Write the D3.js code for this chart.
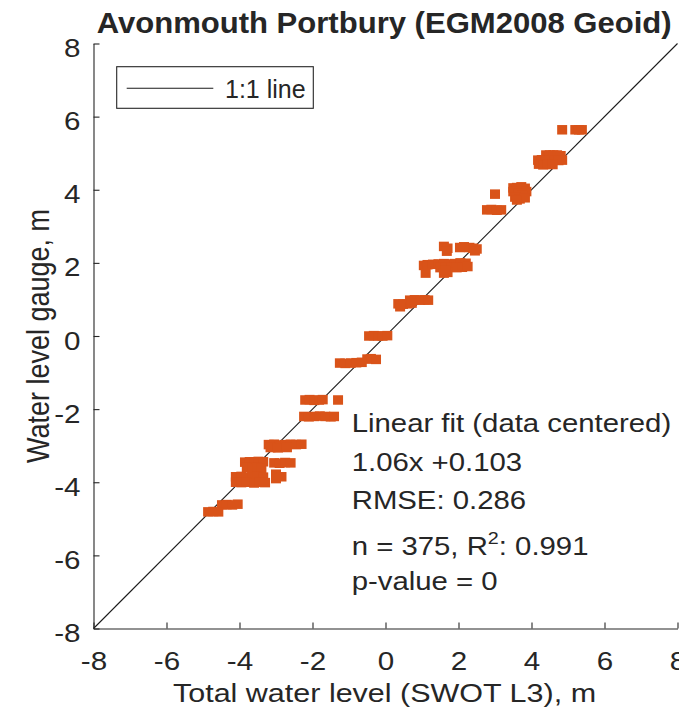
<!DOCTYPE html>
<html><head><meta charset="utf-8">
<script src="https://cdn.jsdelivr.net/npm/d3@7"></script>
<style>
body{margin:0;background:#fff}
text{font-family:"Liberation Sans",Arial,Helvetica,sans-serif;fill:#262626}
</style>
</head><body>
<svg id="chart" width="679" height="718"></svg>
<script>
// ---- data ----
const swotLevel = [
  4.84,5.2,5.3,5.38,
  4.4,4.5,4.6,4.7,4.8,
  4.18,4.28,4.38,4.5,4.62,4.74,4.84,
  4.2,4.32,4.45,4.58,
  3.5,3.6,3.72,3.82,3.86,3.5,3.64,3.76,3.55,3.68,3.82,3.6,
  3.0,
  2.78,2.9,3.05,3.17,
  1.6,1.7,1.68,
  2.04,2.15,2.3,2.4,2.5,2.45,
  1.05,1.15,1.3,1.45,1.6,1.75,1.9,2.05,2.2,
  1.5,1.65,1.8,1.95,2.1,2.25,
  1.1,1.6,1.7,1.65,
  0.67,0.8,0.95,1.07,1.17,
  0.35,0.48,0.6,0.72,0.4,
  -0.45,-0.32,-0.2,-0.08,0.05,
  -0.5,-0.4,-0.26,
  -1.25,-1.1,-0.95,-0.8,-0.65,
  -2.2,-2.08,-1.95,-1.82,-1.72,-1.3,
  -2.23,-2.1,-1.95,-1.8,-1.65,-1.5,-1.41,
  -3.2,-3.05,-2.9,-2.75,-2.6,-2.45,-2.3,-3.15,-2.95,-2.7,
  -3.85,-3.72,-3.6,-3.48,-3.35,
  -3.8,-3.65,-3.5,-3.4,
  -3.05,-2.9,-2.75,-2.6,
  -3.0,-2.85,-3.0,
  -4.1,-3.95,-3.8,-3.65,-3.5,-3.35,
  -4.1,-3.95,-3.8,-3.6,-3.45,-3.3,
  -4.48,-4.35,-4.2,-4.05,
  -4.86,-4.72,-4.58
];
const gaugeLevel = [
  5.64,5.64,5.64,5.64,
  4.95,4.95,4.95,4.95,4.93,
  4.81,4.82,4.8,4.81,4.82,4.8,4.81,
  4.7,4.68,4.7,4.69,
  4.05,4.06,4.08,4.04,3.95,3.95,3.9,3.86,3.8,3.75,3.78,3.72,
  3.88,
  3.45,3.46,3.44,3.45,
  2.45,2.4,2.32,
  2.42,2.44,2.42,2.4,2.38,2.33,
  1.93,1.95,1.96,1.97,1.98,1.97,1.98,2.0,1.99,
  1.87,1.86,1.88,1.87,1.88,1.9,
  1.72,1.72,1.74,1.8,
  0.98,0.99,0.98,0.99,0.98,
  0.88,0.87,0.88,0.9,0.8,
  0.0,0.01,0.0,0.0,0.01,
  -0.63,-0.62,-0.64,
  -0.74,-0.75,-0.74,-0.73,-0.72,
  -1.75,-1.74,-1.76,-1.75,-1.74,-1.75,
  -2.2,-2.21,-2.2,-2.19,-2.2,-2.21,-2.2,
  -2.97,-2.96,-2.98,-2.97,-2.96,-2.97,-2.96,-3.05,-3.06,-3.05,
  -3.45,-3.44,-3.45,-3.43,-3.44,
  -3.6,-3.62,-3.6,-3.63,
  -3.47,-3.48,-3.46,-3.47,
  -3.78,-3.85,-3.9,
  -3.85,-3.84,-3.86,-3.85,-3.84,-3.86,
  -4.0,-4.01,-4.0,-4.02,-4.0,-4.01,
  -4.62,-4.61,-4.62,-4.6,
  -4.81,-4.8,-4.81
];
const xTicks = [-8,-6,-4,-2,0,2,4,6,8];
const yTicks = [-8,-6,-4,-2,0,2,4,6,8];
const oneToOne = [-8, 8];
const titleText = "Avonmouth Portbury (EGM2008 Geoid)";
const xLabelText = "Total water level (SWOT L3), m";
const yLabelText = "Water level gauge, m";
const legendLabel = "1:1 line";
const fitLines = ["Linear fit (data centered)", "1.06x +0.103", "RMSE: 0.286", "n = 375, R|2|: 0.991", "p-value = 0"];

// ---- layout ----
const svg = d3.select("#chart");
const L = 93.5, R = 677.5, T = 43.5, B = 628.5;
const SX = 1.16; // horizontal text stretch seen in the reference
const axisColor = "#262626";
const markColor = "#D95319";

const x = d3.scaleLinear().domain([-8, 8]).range([L, R]);
const y = d3.scaleLinear().domain([-8, 8]).range([B, T]);

// 1:1 line
svg.append("line")
  .attr("x1", x(oneToOne[0])).attr("y1", y(oneToOne[0]))
  .attr("x2", x(oneToOne[1])).attr("y2", y(oneToOne[1]))
  .attr("stroke", "#1a1a1a").attr("stroke-width", 1.1);

// scatter markers (squares)
const mw = 10, mh = 9.5;
svg.append("g").selectAll("rect")
  .data(swotLevel.map((v, i) => [v, gaugeLevel[i]]))
  .join("rect")
  .attr("x", d => x(d[0]) - mw / 2)
  .attr("y", d => y(d[1]) - mh / 2)
  .attr("width", mw).attr("height", mh)
  .attr("fill", markColor);

// axes
const gx = svg.append("g").attr("transform", `translate(0,${B})`)
  .call(d3.axisBottom(x).tickValues(xTicks).tickSizeInner(-6).tickSizeOuter(0).tickFormat(d3.format("d")));
const gy = svg.append("g").attr("transform", `translate(${L},0)`)
  .call(d3.axisLeft(y).tickValues(yTicks).tickSizeInner(-6).tickSizeOuter(0).tickFormat(d3.format("d")));
[gx, gy].forEach(g => {
  g.select(".domain").attr("stroke", axisColor).attr("stroke-width", 1.1);
  g.selectAll(".tick line").attr("stroke", axisColor).attr("stroke-width", 1.1);
  g.selectAll(".tick text").attr("font-size", 25.5).attr("fill", axisColor)
    .style("font-family", '"Liberation Sans",Arial,sans-serif');
});
gx.selectAll(".tick text").attr("y", 0).attr("dy", null)
  .attr("transform", `translate(0,41.5) scale(${SX},1)`);
gy.selectAll(".tick text").attr("x", 0).attr("dy", null)
  .attr("transform", `translate(-13,13) scale(${SX},1)`);
gx.selectAll(".tick text").text(d => String(d));
gy.selectAll(".tick text").text(d => String(d));

// title
svg.append("text")
  .attr("x", 384.2).attr("y", 33)
  .attr("text-anchor", "middle")
  .attr("font-size", 30).attr("font-weight", "bold")
  .attr("fill", "#000")
  .attr("textLength", 575).attr("lengthAdjust", "spacingAndGlyphs")
  .text(titleText);

// x label
svg.append("text")
  .attr("transform", `translate(${(L + R) / 2 - 1},702) scale(${SX},1)`)
  .attr("text-anchor", "middle").attr("font-size", 26.3)
  .text(xLabelText);

// y label
svg.append("text")
  .attr("transform", `translate(49,${(T + B) / 2}) rotate(-90) scale(1,${SX})`)
  .attr("text-anchor", "middle").attr("font-size", 27)
  .text(yLabelText);

// legend
const lg = svg.append("g");
lg.append("rect").attr("x", 116.7).attr("y", 66.7).attr("width", 196.6).attr("height", 41.6)
  .attr("fill", "#fff").attr("stroke", axisColor).attr("stroke-width", 1.1);
lg.append("line").attr("x1", 126.7).attr("x2", 213.3).attr("y1", 88.3).attr("y2", 88.3)
  .attr("stroke", "#1a1a1a").attr("stroke-width", 1.1);
lg.append("text").attr("x", 225).attr("y", 97.5).attr("font-size", 25).text(legendLabel);

// fit statistics annotation
const baselines = [432, 471, 509, 555, 590];
fitLines.forEach((s, i) => {
  const t = svg.append("text")
    .attr("transform", `translate(351.7,${baselines[i]}) scale(${SX},1)`)
    .attr("font-size", 25.3).attr("fill", "#1a1a1a");
  const parts = s.split("|");
  if (parts.length === 1) { t.text(s); }
  else {
    t.append("tspan").text(parts[0]);
    t.append("tspan").attr("font-size", 17).attr("dy", -11).text(parts[1]);
    t.append("tspan").attr("dy", 11).text(parts[2]);
  }
});
</script>
</body></html>
